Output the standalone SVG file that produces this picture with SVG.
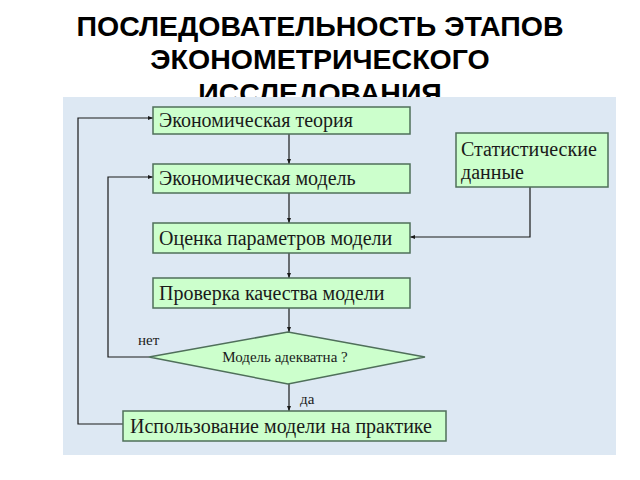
<svg xmlns="http://www.w3.org/2000/svg" width="640" height="480" viewBox="0 0 640 480">
<defs>
<marker id="arr" viewBox="0 0 10 10" refX="10" refY="5" markerWidth="5" markerHeight="5" orient="auto" markerUnits="userSpaceOnUse">
<path d="M0,1 L10,5 L0,9 z" fill="#1a1a1a"/>
</marker>
<style>
.title{font-family:"Liberation Sans",Arial,sans-serif;font-weight:bold;font-size:28.5px;fill:#000;text-anchor:middle}
.box{fill:#ccffcc;stroke:#4f6f5a;stroke-width:1.5}
.t{font-family:"Liberation Serif","Times New Roman",serif;font-size:20px;fill:#1a1a1a}
.s{font-family:"Liberation Serif","Times New Roman",serif;font-size:15px;fill:#1a1a1a}
.c{fill:none;stroke:#1a1a1a;stroke-width:1.2}
</style>
</defs>
<rect width="640" height="480" fill="#ffffff"/>
<g id="title">
<text class="title" x="320" y="36">ПОСЛЕДОВАТЕЛЬНОСТЬ ЭТАПОВ</text>
<text class="title" x="320" y="69">ЭКОНОМЕТРИЧЕСКОГО</text>
<text class="title" x="320" y="103">ИССЛЕДОВАНИЯ</text>
</g>
<rect id="panel" x="63" y="97" width="553" height="358" fill="#dde8f3"/>
<g id="connectors">
<path class="c" d="M289,134 V164" marker-end="url(#arr)"/>
<path class="c" d="M289,193 V223" marker-end="url(#arr)"/>
<path class="c" d="M289,253 V278" marker-end="url(#arr)"/>
<path class="c" d="M289,308 V332" marker-end="url(#arr)"/>
<path class="c" d="M289,384 V411" marker-end="url(#arr)"/>
<path class="c" d="M530,187 V237 H410" marker-end="url(#arr)"/>
<path class="c" d="M149,357 H108 V177 H153" marker-end="url(#arr)"/>
<path class="c" d="M123,424 H78 V118 H153" marker-end="url(#arr)"/>
<text class="s" x="138" y="345">нет</text>
<text class="s" x="300" y="404">да</text>
</g>
<g id="n1"><rect class="box" x="153" y="107" width="257" height="27"/><text class="t" x="159" y="127">Экономическая теория</text></g>
<g id="n2"><rect class="box" x="153" y="164" width="257" height="29"/><text class="t" x="159" y="185">Экономическая модель</text></g>
<g id="n3"><rect class="box" x="456" y="133" width="152" height="54"/><text class="t" x="461" y="156">Статистические</text><text class="t" x="461" y="179">данные</text></g>
<g id="n4"><rect class="box" x="153" y="223" width="257" height="30"/><text class="t" x="159" y="245">Оценка параметров модели</text></g>
<g id="n5"><rect class="box" x="153" y="278" width="257" height="30"/><text class="t" x="159" y="300">Проверка качества модели</text></g>
<g id="n6"><polygon class="box" points="149,357 288,332 425,357 288,384"/><text class="s" x="285" y="362" text-anchor="middle">Модель адекватна ?</text></g>
<g id="n7"><rect class="box" x="123" y="411" width="323" height="30"/><text class="t" x="130" y="433">Использование модели на практике</text></g>
</svg>
